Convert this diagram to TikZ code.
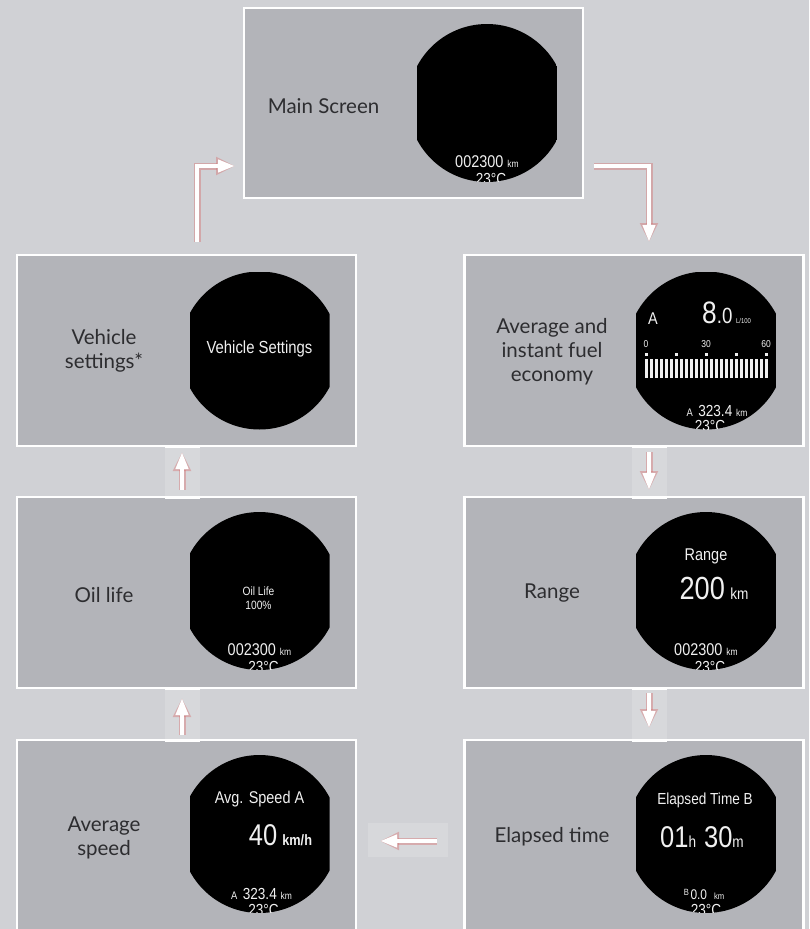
\documentclass[tikz,border=0pt]{standalone}
\usepackage{fontspec}
\setmainfont{Lato}
\newfontfamily\dispfont[FakeStretch=0.85]{Liberation Sans}
\usetikzlibrary{positioning, arrows.meta, calc}

\definecolor{pagebg}{RGB}{208,209,213}
\definecolor{panelgray}{RGB}{179,180,185}
\definecolor{tabgray}{RGB}{215,216,219}
\definecolor{glowred}{RGB}{214,105,105}
\definecolor{labelink}{RGB}{45,45,48}
\definecolor{scrwhite}{RGB}{240,240,240}

\newcommand{\dsize}[1]{\fontsize{#1}{#1}\selectfont}
% black display: circle cut off left and right
\newcommand{\screenbg}{%
  \clip (-70,-79) rectangle (70,79);
  \clip (0,0) circle (79);
  \fill[black] (-70,-79) rectangle (70,79);
}

\tikzset{
  panel/.style={draw=white, line width=2.5pt, fill=panelgray, minimum width=339pt,
    minimum height=191pt, inner sep=0pt, outer sep=0pt},
  lbl/.style={text=labelink, align=center, font=\fontsize{20.5}{24}\selectfont},
  scr/.style={text=scrwhite, inner sep=0pt, font=\dispfont},
  flow/.style={draw=white, line width=4pt, -{Triangle[length=17pt,width=12pt]},
    preaction={draw=glowred, opacity=0.4, line width=7pt, -{Triangle[length=19pt,width=17pt]}}},
}

\begin{document}
\begin{tikzpicture}[x=1pt, y=-1pt]
    \useasboundingbox (0,0) rectangle (809,929);
    \fill[pagebg] (0,0) rectangle (809,929);

    % ---------------- PANELS ----------------
    \node[panel, minimum height=190pt] (main) at (413.5,103) {};
    \node[panel] (vehicle) at (186.5,350.5) {};
    \node[panel] (fuel) at (634,350.5) {};
    \node[panel] (oil) at (186.5,592.5) {};
    \node[panel] (range) at (634,592.5) {};
    \node[panel] (avg) at (186.5,835.5) {};
    \node[panel] (elapsed) at (634,835.5) {};

    % tabs between the panels
    \fill[tabgray] (165,446) rectangle (200,497);
    \fill[tabgray] (165,688) rectangle (200,740);
    \fill[tabgray] (632,446) rectangle (667,497);
    \fill[tabgray] (632,688) rectangle (667,740);
    \fill[tabgray] (368,823) rectangle (448,857);
    \draw[white, line width=3pt] (165,446) -- (200,446) (165,497) -- (200,497);
    \draw[white, line width=3pt] (165,688) -- (200,688) (165,740) -- (200,740);
    \draw[white, line width=3pt] (632,446) -- (667,446) (632,497) -- (667,497);
    \draw[white, line width=3pt] (632,688) -- (667,688) (632,740) -- (667,740);

    % ---------------- LABELS ----------------
    \node[lbl] (mainlbl) at ([xshift=-90pt,yshift=-3pt]main.center) {Main Screen};
    \node[lbl] (vehiclelbl) at ([xshift=-82.5pt]vehicle.center) {Vehicle\\settings*};
    \node[lbl] (fuellbl) at ([xshift=-82pt,yshift=-1.5pt]fuel.center) {Average and\\instant fuel\\economy};
    \node[lbl] (oillbl) at ([xshift=-82.5pt,yshift=-2.5pt]oil.center) {Oil life};
    \node[lbl] (rangelbl) at ([xshift=-82pt,yshift=-1pt]range.center) {Range};
    \node[lbl] (avglbl) at ([xshift=-82.5pt,yshift=-2.5pt]avg.center) {Average\\speed};
    \node[lbl] (elapsedlbl) at ([xshift=-82pt,yshift=-1.5pt]elapsed.center) {Elapsed time};

    % ---------------- SCREENS ----------------
    \coordinate (mainscr) at ([xshift=73.5pt]main.center);
    \coordinate (vehiclescr) at ([xshift=73pt]vehicle.center);
    \coordinate (fuelscr) at ([xshift=72pt]fuel.center);
    \coordinate (oilscr) at ([xshift=73pt,yshift=1.5pt]oil.center);
    \coordinate (rangescr) at ([xshift=72pt,yshift=1.5pt]range.center);
    \coordinate (avgscr) at ([xshift=73pt,yshift=1.5pt]avg.center);
    \coordinate (elapsedscr) at ([xshift=72pt,yshift=1.5pt]elapsed.center);

    \begin{scope}[shift={(mainscr)}]
        \screenbg
        \node[scr] (mainodo) at (0,59) {\dsize{17}002300 \dsize{10}km};
        \node[scr] (maintemp) at (4,75.5) {\dsize{16}23°C};
    \end{scope}

    \begin{scope}[shift={(vehiclescr)}]
        \screenbg
        \node[scr] (vehiclettl) at (0,-2) {\dsize{17.5}Vehicle Settings};
    \end{scope}

    \begin{scope}[shift={(fuelscr)}]
        \screenbg
        \node[scr] (fuela) at (-53,-32) {\dsize{17}A};
        \node[scr, anchor=base west] (fuelavg) at (-4,-27) {\dsize{31}8\dsize{22}.0\,\dsize{7}L/100};
        \foreach \v/\x in {0/-60, 30/0, 60/60}
            \node[scr] (fuelscale\v) at (\x,-6) {\dsize{10}\v};
        \foreach \x in {-60,-30,0,30,60}
            \fill[scrwhite] (\x-1.5,2) rectangle (\x+1.5,5.5);
        \foreach \i in {0,...,24}
            \fill[scrwhite] ({-61.5+5*\i},8) rectangle ({-58.5+5*\i},27);
        \node[scr] (fuelodo) at (11,60) {\dsize{11}A\enspace\dsize{16}323.4 \dsize{10}km};
        \node[scr] (fueltemp) at (4,75.5) {\dsize{16}23°C};
    \end{scope}

    \begin{scope}[shift={(oilscr)}]
        \screenbg
        \node[scr, align=center, font=\dispfont\fontsize{12}{14}\selectfont] (oilttl) at (-1,7) {Oil Life\\100\%};
        \node[scr] (oilodo) at (0,59) {\dsize{17}002300 \dsize{10}km};
        \node[scr] (oiltemp) at (4,75.5) {\dsize{16}23°C};
    \end{scope}

    \begin{scope}[shift={(rangescr)}]
        \screenbg
        \node[scr] (rangettl) at (0,-35) {\dsize{17}Range};
        \node[scr] (rangeval) at (8,-3) {\dsize{32}200\,\dsize{16}km};
        \node[scr] (rangeodo) at (0,59) {\dsize{17}002300 \dsize{10}km};
        \node[scr] (rangetemp) at (4,75.5) {\dsize{16}23°C};
    \end{scope}

    \begin{scope}[shift={(avgscr)}]
        \screenbg
        \node[scr] (avgttl) at (0,-35) {\dsize{17}Avg. Speed A};
        \node[scr] (avgval) at (21,1) {\dsize{30}40\,\dsize{15}\bfseries km/h};
        \node[scr] (avgodo) at (2,60) {\dsize{11}A\enspace\dsize{16}323.4 \dsize{10}km};
        \node[scr] (avgtemp) at (4,75.5) {\dsize{16}23°C};
    \end{scope}

    \begin{scope}[shift={(elapsedscr)}]
        \screenbg
        \node[scr] (elapsedttl) at (-1,-34) {\dsize{16}Elapsed Time B};
        \node[scr] (elapsedval) at (-4,3) {\dsize{30}01\dsize{16}h\enspace\dsize{30}30\dsize{16}m};
        \node[scr] (elapsedodo) at (-2,60) {\raisebox{4pt}{\dsize{9}B}\,\dsize{14}0.0\enspace\dsize{9}km};
        \node[scr] (elapsedtemp) at (0,75.5) {\dsize{16}23°C};
    \end{scope}

    % ---------------- ARROWS ----------------
    \draw[flow] ([xshift=11pt,yshift=-63pt]main.east) -| ([xshift=15pt,yshift=13pt]fuel.north);
    \draw[flow] ([xshift=15pt,yshift=-6pt]fuel.south) -- ([xshift=15pt,yshift=7pt]range.north);
    \draw[flow] ([xshift=15pt,yshift=-5pt]range.south) -- ([xshift=15pt,yshift=12pt]elapsed.north);
    \draw[flow] ([xshift=-28pt,yshift=-5.5pt]elapsed.west) -- ([xshift=24pt,yshift=-5.5pt]avg.east);
    \draw[flow] ([xshift=-4.5pt,yshift=5pt]avg.north) -- ([xshift=-4.5pt,yshift=-10pt]oil.south);
    \draw[flow] ([xshift=-4.5pt,yshift=7pt]oil.north) -- ([xshift=-4.5pt,yshift=-6pt]vehicle.south);
    \draw[flow] ([xshift=10.5pt,yshift=13pt]vehicle.north) |- ([xshift=-9pt,yshift=-63pt]main.west);
\end{tikzpicture}
\end{document}
